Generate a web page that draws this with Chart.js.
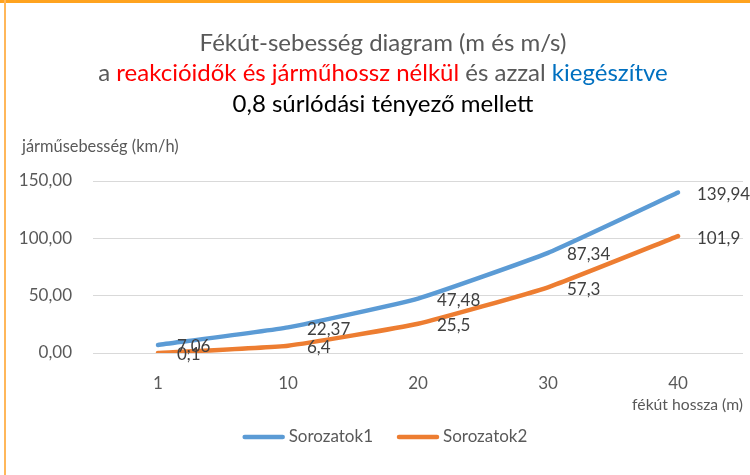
<!DOCTYPE html>
<html>
<head>
<meta charset="utf-8">
<script src="https://cdn.jsdelivr.net/npm/chart.js@4/dist/chart.umd.min.js"></script>
<style>
html,body{margin:0;padding:0;background:#fff;}
#wrap{width:750px;height:475px;position:relative;}
</style>
</head>
<body>
<div id="wrap"><canvas id="c" width="750" height="475"></canvas></div>
<script>
const categories = ['1', '10', '20', '30', '40'];
const series1Name = 'Sorozatok1';
const series2Name = 'Sorozatok2';
const series1 = [7.06, 22.37, 47.48, 87.34, 139.94];
const series2 = [0.1, 6.4, 25.5, 57.3, 101.9];
const titleLine1 = 'Fékút-sebesség diagram (m és m/s)';
const titleLine2 = [
  ['a ', '#595959'],
  ['reakcióidők és járműhossz nélkül', '#FF0000'],
  [' és azzal ', '#595959'],
  ['kiegészítve', '#0070C0']
];
const titleLine3 = '0,8 súrlódási tényező mellett';
const yTitle = 'járműsebesség (km/h)';
const xTitle = 'fékút hossza (m)';

const FONT = 'Lato, "Open Sans", sans-serif';
const fmt = v => String(v).replace('.', ',');

const decor = {
  id: 'decor',
  beforeDraw(chart) {
    const ctx = chart.ctx;
    ctx.save();
    ctx.fillStyle = '#fff';
    ctx.fillRect(0, 0, chart.width, chart.height);
    ctx.fillStyle = '#FFA31F';
    ctx.fillRect(0, 0, chart.width, 3);
    ctx.fillStyle = '#FFB75A';
    ctx.fillRect(4, 0, 2, chart.height);
    ctx.restore();
  },
  afterDraw(chart) {
    const ctx = chart.ctx;
    const cx = 383;
    ctx.save();
    ctx.textBaseline = 'middle';
    ctx.font = '24px ' + FONT;
    ctx.textAlign = 'center';
    ctx.fillStyle = '#595959';
    ctx.fillText(titleLine1, cx, 43);
    ctx.textAlign = 'left';
    let total = 0;
    titleLine2.forEach(s => total += ctx.measureText(s[0]).width);
    let x = cx - total / 2;
    titleLine2.forEach(s => {
      ctx.fillStyle = s[1];
      ctx.fillText(s[0], x, 73);
      x += ctx.measureText(s[0]).width;
    });
    ctx.textAlign = 'center';
    ctx.fillStyle = '#000000';
    ctx.fillText(titleLine3, cx, 104);
    ctx.textAlign = 'left';
    ctx.font = '16.4px ' + FONT;
    ctx.fillStyle = '#595959';
    ctx.fillText(yTitle, 22, 147);

    // legend
    ctx.font = '17px ' + FONT;
    const items = chart.data.datasets.map(ds => ({ text: ds.label, color: ds.borderColor, w: ctx.measureText(ds.label).width }));
    const lineW = 42, gapText = 4, gapItem = 24;
    let tw = 0;
    items.forEach((it, i) => { tw += lineW + gapText + it.w + (i ? gapItem : 0); });
    let lx = 385 - tw / 2;
    const ly = 437;
    items.forEach(it => {
      ctx.strokeStyle = it.color;
      ctx.lineWidth = 4.5;
      ctx.lineCap = 'round';
      ctx.beginPath();
      ctx.moveTo(lx + 2, ly);
      ctx.lineTo(lx + lineW - 2, ly);
      ctx.stroke();
      ctx.fillStyle = '#595959';
      ctx.fillText(it.text, lx + lineW + gapText, ly);
      lx += lineW + gapText + it.w + gapItem;
    });
    ctx.restore();
  },
  afterDatasetsDraw(chart) {
    const ctx = chart.ctx;
    ctx.save();
    ctx.font = '17px ' + FONT;
    ctx.fillStyle = '#404040';
    ctx.textAlign = 'left';
    ctx.textBaseline = 'middle';
    chart.data.datasets.forEach((ds, i) => {
      const meta = chart.getDatasetMeta(i);
      meta.data.forEach((pt, j) => {
        ctx.fillText(fmt(ds.data[j]), pt.x + 19, pt.y + 2);
      });
    });
    ctx.restore();
  }
};

new Chart(document.getElementById('c'), {
  type: 'line',
  data: {
    labels: categories,
    datasets: [
      { label: series1Name, data: series1, borderColor: '#5B9BD5', backgroundColor: '#5B9BD5',
        borderWidth: 4.5, pointRadius: 0, tension: 0.13, borderCapStyle: 'round', borderJoinStyle: 'round' },
      { label: series2Name, data: series2, borderColor: '#ED7D31', backgroundColor: '#ED7D31',
        borderWidth: 4.5, pointRadius: 0, tension: 0.13, borderCapStyle: 'round', borderJoinStyle: 'round' }
    ]
  },
  options: {
    responsive: false,
    animation: false,
    devicePixelRatio: 1,
    layout: { padding: { top: 181, right: 7, left: 0, bottom: 61 } },
    plugins: {
      legend: { display: false },
      tooltip: { enabled: false },
      title: { display: false }
    },
    scales: {
      x: {
        offset: true,
        grid: { display: false, drawTicks: false },
        border: { display: false },
        ticks: { font: { family: FONT, size: 17 }, color: '#595959', padding: 20 },
        title: { display: true, text: xTitle, align: 'end', font: { family: FONT, size: 15.7 }, color: '#595959', padding: { top: 0, bottom: 0 } },
        afterFit(s) { s.height = 61; }
      },
      y: {
        min: 0, max: 150,
        grid: { color: '#D9D9D9', lineWidth: 1, drawTicks: false },
        border: { display: false },
        ticks: { stepSize: 50, font: { family: FONT, size: 17 }, color: '#595959', padding: 21,
          callback: v => v.toFixed(2).replace('.', ',') },
        afterFit(s) { s.width = 93; }
      }
    }
  },
  plugins: [decor]
});
</script>
</body>
</html>
